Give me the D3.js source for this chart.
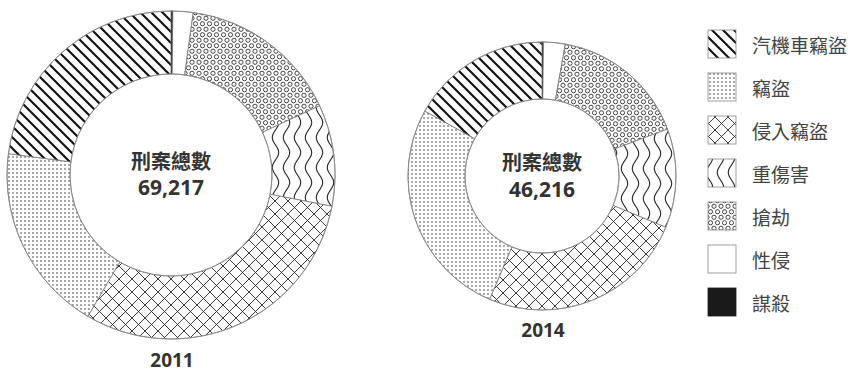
<!DOCTYPE html>
<html><head><meta charset="utf-8">
<script src="https://cdn.jsdelivr.net/npm/d3@7"></script>
<style>
html,body{margin:0;padding:0;background:#fff;}
svg{display:block;}
</style></head>
<body>
<svg id="chart" width="855" height="372"></svg>
<script>
// ---- data ----
const categories = ["謀殺","性侵","搶劫","重傷害","侵入竊盜","竊盜","汽機車竊盜"];
const legendOrder = ["汽機車竊盜","竊盜","侵入竊盜","重傷害","搶劫","性侵","謀殺"];
const years = ["2011","2014"];
const totals = [69217, 46216];
const values2011 = [130, 1370, 11000, 6920, 21050, 12880, 15867];
const values2014 = [80, 1207, 7638, 5520, 11618, 12324, 7829];
const centerLabel = "刑案總數";

// ---- layout ----
const svg = d3.select("#chart");
const defs = svg.append("defs");
const patId = {"汽機車竊盜":"p-diag","竊盜":"p-dots","侵入竊盜":"p-cross","重傷害":"p-wave","搶劫":"p-ring","性侵":null,"謀殺":null};
function fillFor(c){ if(c==="謀殺") return "#1a1a1a"; if(c==="性侵") return "#fff"; return "url(#"+patId[c]+")"; }

// diagonal "\" lines
let p = defs.append("pattern").attr("id","p-diag").attr("patternUnits","userSpaceOnUse").attr("width",11).attr("height",11);
p.append("rect").attr("width",11).attr("height",11).attr("fill","#fff");
p.append("path").attr("d","M-2,-2L13,13M-2,9L2,13M9,-2L13,2").attr("stroke","#111").attr("stroke-width",2.1);
// dots
p = defs.append("pattern").attr("id","p-dots").attr("patternUnits","userSpaceOnUse").attr("width",4).attr("height",4);
p.append("rect").attr("width",4).attr("height",4).attr("fill","#fff");
p.append("circle").attr("cx",2).attr("cy",2).attr("r",0.7).attr("fill","#111");
// crosshatch
p = defs.append("pattern").attr("id","p-cross").attr("patternUnits","userSpaceOnUse").attr("width",13).attr("height",13);
p.append("rect").attr("width",13).attr("height",13).attr("fill","#fff");
p.append("path").attr("d","M0,0L13,13M13,0L0,13").attr("stroke","#222").attr("stroke-width",0.9);
// wavy vertical lines (smooth sine)
const waveH = 30;
p = defs.append("pattern").attr("id","p-wave").attr("patternUnits","userSpaceOnUse").attr("width",11).attr("height",waveH);
p.append("rect").attr("width",11).attr("height",waveH).attr("fill","#fff");
const wavePts = d3.range(-2, waveH+3).map(y => [5.5 + 3.2*Math.sin(2*Math.PI*y/waveH), y]);
p.append("path").attr("d", d3.line().curve(d3.curveBasis)(wavePts)).attr("fill","none").attr("stroke","#222").attr("stroke-width",1.1);
// rings (staggered)
p = defs.append("pattern").attr("id","p-ring").attr("patternUnits","userSpaceOnUse").attr("width",7).attr("height",11);
p.append("rect").attr("width",7).attr("height",11).attr("fill","#fff");
[[3.5,2.75],[0,8.25],[7,8.25],[3.5,13.75],[3.5,-2.75]].forEach(([x,y])=>{
  p.append("circle").attr("cx",x).attr("cy",y).attr("r",2.1).attr("fill","none").attr("stroke","#222").attr("stroke-width",0.85);
});

const rScale = d3.scaleSqrt().domain([0, totals[0]]).range([0, 164]);
const donuts = [
  {year: years[0], total: totals[0], values: values2011, cx: 171, cy: 175, inner: 101, yearY: 367, t1: 169, t2: 195},
  {year: years[1], total: totals[1], values: values2014, cx: 542, cy: 176, inner: 77, yearY: 337, t1: 170, t2: 197}
];
const pie = d3.pie().sort(null).value(d=>d.v);
const fmt = d3.format(",");

donuts.forEach(dn => {
  const outer = rScale(dn.total);
  const g = svg.append("g").attr("transform",`translate(${dn.cx},${dn.cy})`);
  const arc = d3.arc().innerRadius(dn.inner).outerRadius(outer);
  const data = categories.map((c,i)=>({c, v: dn.values[i]}));
  g.selectAll("path.slice").data(pie(data)).join("path").attr("class","slice")
    .attr("d",arc).attr("fill",d=>fillFor(d.data.c))
    .attr("stroke",d=>d.data.c==="謀殺"?"#1a1a1a":"#777").attr("stroke-width",0.8);
  g.append("circle").attr("r",outer).attr("fill","none").attr("stroke","#888").attr("stroke-width",0.8);
  g.append("circle").attr("r",dn.inner).attr("fill","none").attr("stroke","#888").attr("stroke-width",0.8);
  g.append("text").attr("x",0).attr("y",dn.t1-dn.cy).attr("text-anchor","middle")
    .attr("font-family","'Noto Sans CJK TC','Open Sans',sans-serif").attr("font-weight","bold").attr("font-size",20).attr("fill","#333").text(centerLabel);
  g.append("text").attr("x",0).attr("y",dn.t2-dn.cy).attr("text-anchor","middle")
    .attr("font-family","'Open Sans','Noto Sans',sans-serif").attr("font-weight","bold").attr("font-size",21).attr("fill","#333").text(fmt(dn.total));
  svg.append("text").attr("x",dn.cx+1).attr("y",dn.yearY).attr("text-anchor","middle")
    .attr("font-family","'Open Sans','Noto Sans',sans-serif").attr("font-weight","bold").attr("font-size",19).attr("fill","#333").text(dn.year);
});

// legend
const ly = d3.scalePoint().domain(legendOrder).range([44, 302]);
const lg = svg.append("g");
legendOrder.forEach(c => {
  const y = ly(c);
  lg.append("rect").attr("x",708).attr("y",y-14).attr("width",28).attr("height",28)
    .attr("fill",fillFor(c)).attr("stroke",c==="謀殺"?"#1a1a1a":"#888").attr("stroke-width",0.8);
  lg.append("text").attr("x",752).attr("y",y).attr("dominant-baseline","central")
    .attr("font-family","'Noto Sans CJK TC',sans-serif").attr("font-size",19).attr("fill","#444").text(c);
});
</script>
</body></html>
